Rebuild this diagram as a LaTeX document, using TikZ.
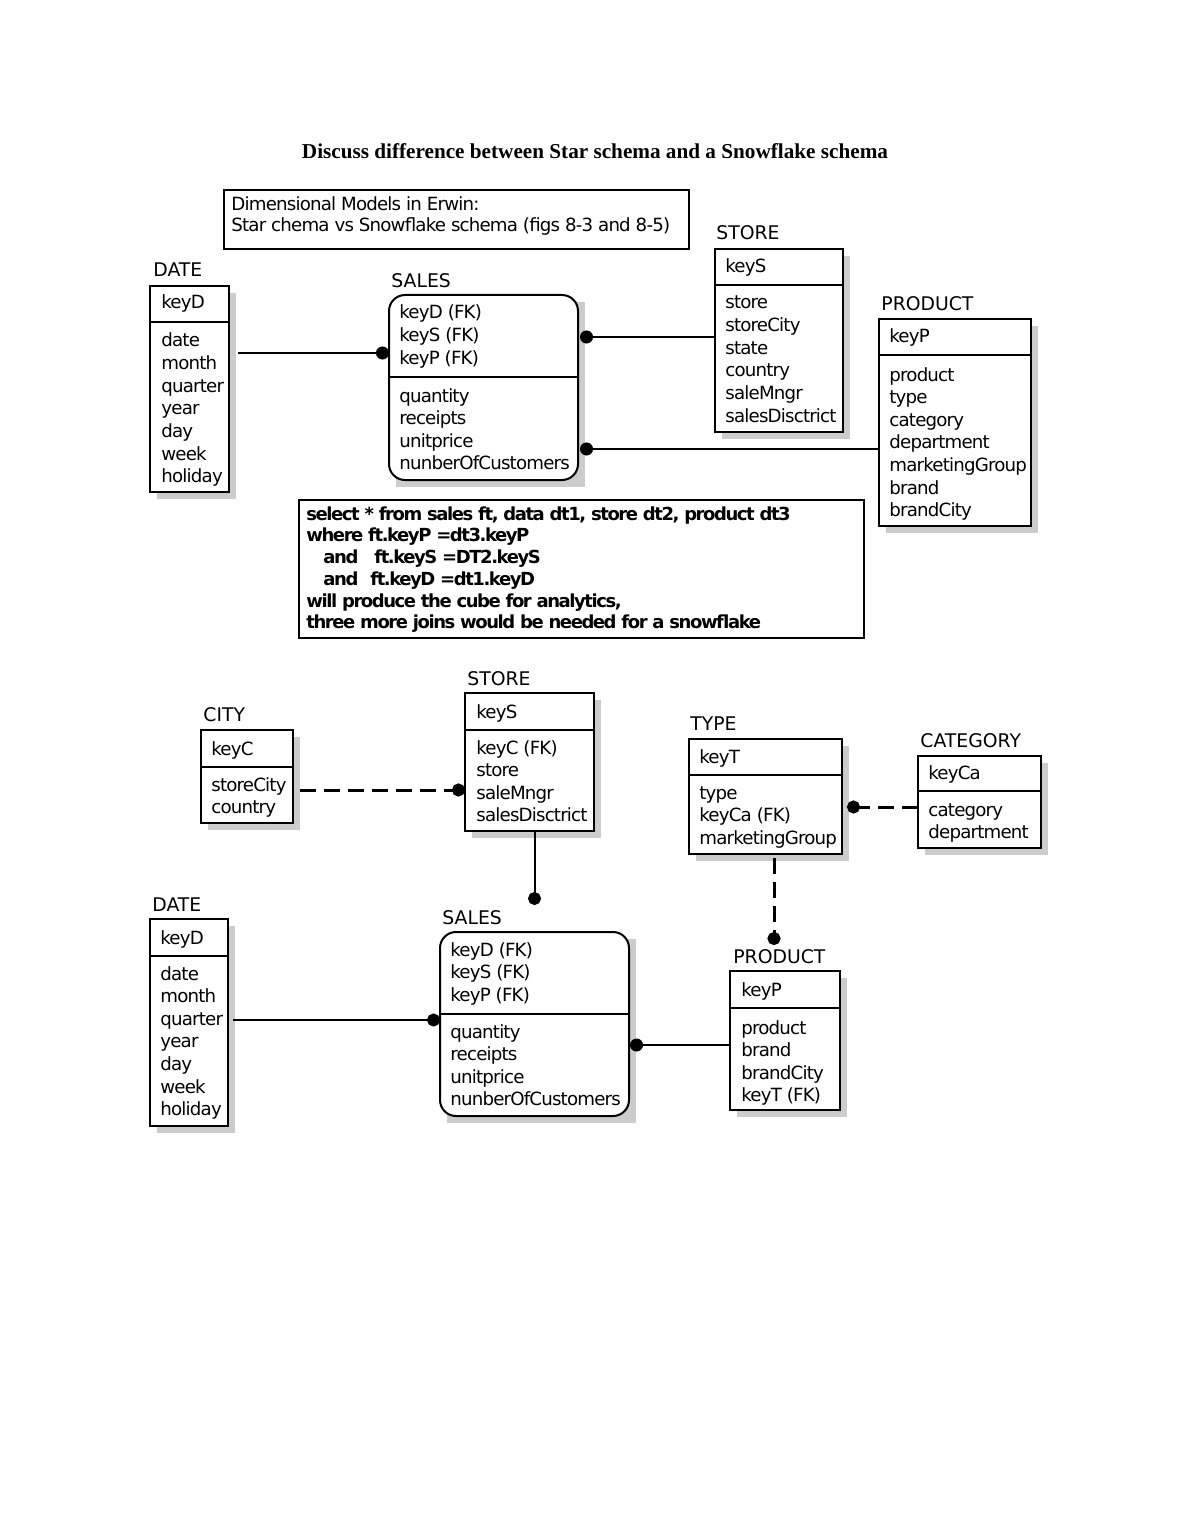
\documentclass[tikz,border=0pt]{standalone}
\usepackage{fontspec}
\setmainfont{DejaVu Sans}
\newfontfamily\attf[LetterSpace=-4.5]{DejaVu Sans}
\newfontfamily\sqlf[LetterSpace=-8]{DejaVu Sans Bold}
\newfontfamily\titlef{Liberation Serif}
\usetikzlibrary{fit,calc,arrows.meta}
\tikzset{
  x=0.5pt, y=-0.5pt,
  box/.style={draw, line width=1pt, fill=white, inner sep=0pt, outer sep=0pt},
  rbox/.style={box, rounded corners=8pt},
  shadowc/.style={fill=black!20},
  sepline/.style={line width=1pt},
  lbl/.style={anchor=base west, inner sep=0pt, font=\fontsize{9.4}{11}\selectfont},
  att/.style={anchor=base west, inner sep=0pt, font=\attf\fontsize{9.1}{11}\selectfont},
  sql/.style={anchor=base west, inner sep=0pt, font=\sqlf\fontsize{9}{11}\selectfont},
  thinrel/.style={line width=0.6pt},
  thickrel/.style={line width=1pt},
  dashrel/.style={line width=1.5pt, dash pattern=on 8pt off 4pt},
  dotend/.style={-{Circle[length=6.5pt]}},
  dotstart/.style={{Circle[length=6.5pt]}-},
}
% #1 name, #2 x0, #3 y0, #4 x1, #5 y1, #6 separator y, #7 style
\newcommand\entity[7]{%
  \fill[shadowc] (#2+7,#3+7) rectangle (#4+7,#5+7);
  \node[#7, fit={(#2,#3)(#4,#5)}] (#1) {};
  \draw[sepline] (#2,#6) -- (#4,#6);
}
% #1 prefix, #2 x, #3 first baseline, #4 list
\newcommand\attlines[4]{%
  \foreach \t [count=\i from 0] in {#4} {\node[att] (#1-\i) at (#2, #3+22.6*\i) {\t};}
}
\begin{document}
\begin{tikzpicture}
\useasboundingbox (0,0) rectangle (1190,1540);
\fill[white] (0,0) rectangle (1190,1540);

% title
\node[anchor=base, inner sep=0pt, font=\titlef\bfseries\fontsize{10.6}{12}\selectfont] (title) at (595,159)
  {Discuss difference between Star schema and a Snowflake schema};

% caption box
\node[draw, line width=1pt, inner sep=0pt, fit={(224,190)(689,249)}] (capbox) {};
\node[att] (cap1) at (231,211) {Dimensional Models in Erwin:};
\node[att] (cap2) at (231,232) {Star chema vs Snowflake schema (figs 8-3 and 8-5)};

% ===== STAR =====
\node[lbl] (dateTl) at (153,277) {DATE};
\entity{dateT}{150}{286}{229}{492}{322}{box}
\node[att] (dateTk) at (161,309) {keyD};
\attlines{dateTa}{161}{347}{date,month,quarter,year,day,week,holiday}

\node[lbl] (salesTl) at (391,288) {SALES};
\entity{salesT}{389}{295}{578}{480}{377}{rbox}
\attlines{salesTk}{399}{319}{keyD (FK),keyS (FK),keyP (FK)}
\attlines{salesTa}{399}{402}{quantity,receipts,unitprice,nunberOfCustomers}

\node[lbl] (storeTl) at (716,240) {STORE};
\entity{storeT}{715}{249}{843}{432}{285}{box}
\node[att] (storeTk) at (725,273) {keyS};
\attlines{storeTa}{725}{309}{store,storeCity,state,country,saleMngr,salesDisctrict}

\node[lbl] (productTl) at (881,311) {PRODUCT};
\entity{productT}{879}{319}{1031}{526}{355}{box}
\node[att] (productTk) at (889,343) {keyP};
\attlines{productTa}{889}{381}{product,type,category,department,marketingGroup,brand,brandCity}

\draw[thinrel, dotend] ($(dateT.east |- 0,353)+(9,0)$) -- (salesT.west |- 0,353);
\draw[thinrel, dotstart] ($(salesT.east |- 0,337)+(2,0)$) -- (storeT.west |- 0,337);
\draw[thinrel, dotstart] ($(salesT.east |- 0,449)+(2,0)$) -- (productT.west |- 0,449);

% SQL box
\node[draw, line width=0.8pt, inner sep=0pt, fit={(299,500)(864,638)}] (sqlbox) {};
\node[sql] (sql1) at (306,520) {select * from sales ft, data dt1, store dt2, product dt3};
\node[sql] (sql2) at (306,541) {where ft.keyP =dt3.keyP};
\node[sql] (sql3) at (323,563) {and\hspace{8pt}ft.keyS =DT2.keyS};
\node[sql] (sql4) at (323,585) {and\hspace{6pt}ft.keyD =dt1.keyD};
\node[sql] (sql5) at (306,607) {will produce the cube for analytics,};
\node[sql] (sql6) at (306,628) {three more joins would be needed for a snowflake};

% ===== SNOWFLAKE =====
\node[lbl] (storeBl) at (467,685) {STORE};
\entity{storeB}{465}{693}{594}{831}{730}{box}
\node[att] (storeBk) at (476,718) {keyS};
\attlines{storeBa}{476}{754}{keyC (FK),store,saleMngr,salesDisctrict}

\node[lbl] (cityBl) at (203,721) {CITY};
\entity{cityB}{201}{730}{293}{823}{767}{box}
\node[att] (cityBk) at (211,755) {keyC};
\attlines{cityBa}{211}{791}{storeCity,country}

\node[lbl] (typeBl) at (690,730) {TYPE};
\entity{typeB}{689}{739}{842}{854}{775}{box}
\node[att] (typeBk) at (699,763) {keyT};
\attlines{typeBa}{699}{799}{type,keyCa (FK),marketingGroup}

\node[lbl] (catBl) at (920,747) {CATEGORY};
\entity{catB}{918}{756}{1041}{848}{791}{box}
\node[att] (catBk) at (928,779) {keyCa};
\attlines{catBa}{928}{816}{category,department}

\node[lbl] (dateBl) at (152,911) {DATE};
\entity{dateB}{150}{919}{228}{1126}{956}{box}
\node[att] (dateBk) at (160,944) {keyD};
\attlines{dateBa}{160}{980}{date,month,quarter,year,day,week,holiday}

\node[lbl] (salesBl) at (442,924) {SALES};
\entity{salesB}{440}{932}{629}{1116}{1014}{rbox}
\attlines{salesBk}{450}{956}{keyD (FK),keyS (FK),keyP (FK)}
\attlines{salesBa}{450}{1038}{quantity,receipts,unitprice,nunberOfCustomers}

\node[lbl] (productBl) at (733,963) {PRODUCT};
\entity{productB}{730}{971}{840}{1110}{1008}{box}
\node[att] (productBk) at (741,996) {keyP};
\attlines{productBa}{741}{1034}{product,brand,brandCity,keyT (FK)}

\draw[dashrel, dotend] ($(cityB.east |- 0,790)+(7,0)$) -- (storeB.west |- 0,790);
\draw[thickrel, dotend] (salesB.north |- storeB.south) -- ($(salesB.north)+(0,-27)$);
\draw[dashrel, dotend] (catB.west |- 0,807) -- ($(typeB.east |- 0,807)+(5,0)$);
\draw[dashrel, dotend] ($(typeB.south)+(8.5,4)$) -- ($(typeB.south)+(8.5,91)$);
\draw[thickrel, dotend] ($(dateB.east |- 0,1020)+(5,0)$) -- (salesB.west |- 0,1020);
\draw[thinrel, dotstart] ($(salesB.east |- 0,1045)+(1,0)$) -- (productB.west |- 0,1045);
\end{tikzpicture}
\end{document}
